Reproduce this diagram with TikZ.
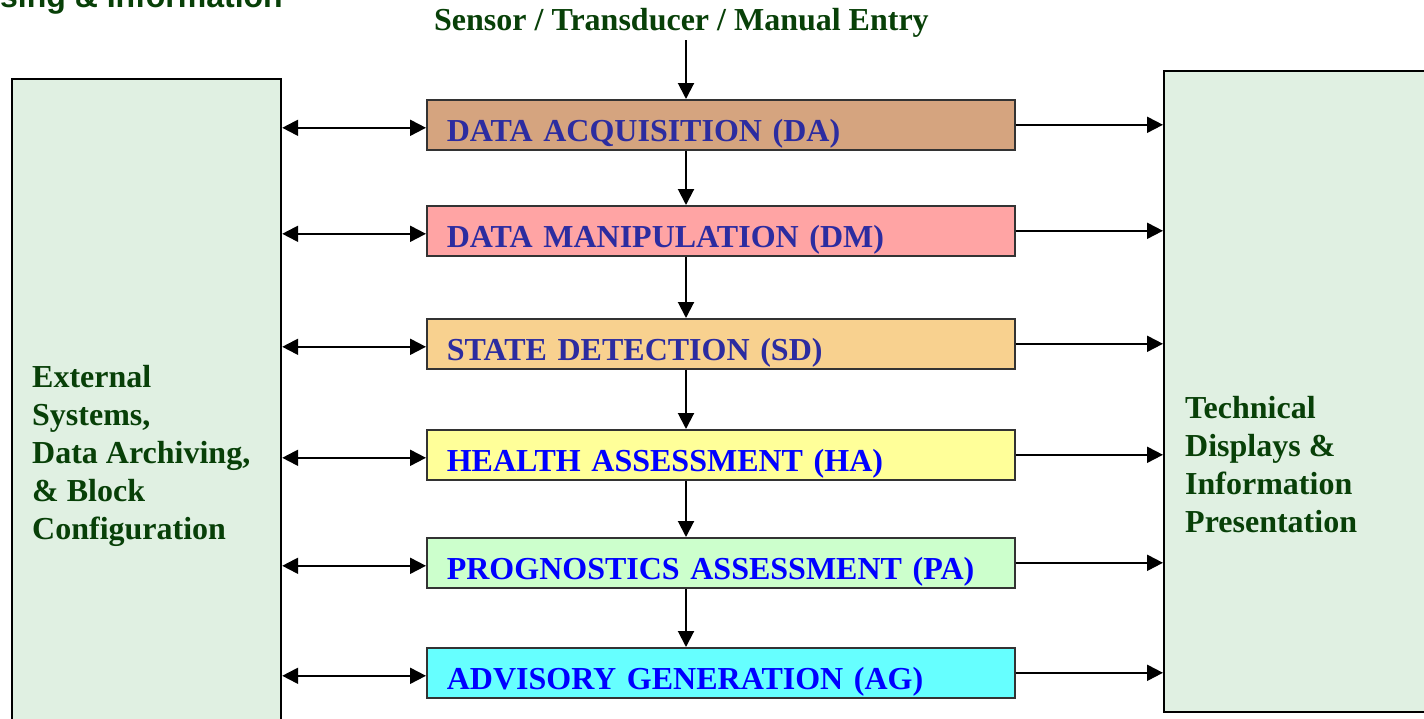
\documentclass[tikz,border=0pt]{standalone}
\usepackage{fontspec}
\setmainfont{Liberation Serif}
\newfontfamily\headsans{Liberation Sans}
\usetikzlibrary{arrows.meta}
\definecolor{dkgreen}{RGB}{8,64,8}
\definecolor{sidefill}{RGB}{224,240,226}
\definecolor{dablue}{RGB}{44,44,160}
\definecolor{brblue}{RGB}{0,0,255}
\definecolor{cDA}{RGB}{213,164,127}
\definecolor{cDM}{RGB}{255,164,164}
\definecolor{cSD}{RGB}{248,209,143}
\definecolor{cHA}{RGB}{255,255,153}
\definecolor{cPA}{RGB}{204,255,204}
\definecolor{cAG}{RGB}{102,255,255}
\tikzset{
  bigfont/.style={font=\fontsize{32}{38}\selectfont\bfseries},
  sidebox/.style={draw=black, line width=2.2pt, fill=sidefill, anchor=north west, inner sep=0pt},
  stagebox/.style={draw=black!80, line width=1.6pt, anchor=north west,
    minimum width=588pt, minimum height=50pt, text width=548pt, align=left,
    inner xsep=20pt, inner ysep=0pt, text height=34pt, text depth=0pt, bigfont},
  conn/.style={line width=2pt, -{Triangle[length=16pt,width=16pt]}},
  dconn/.style={line width=2pt, {Triangle[length=16pt,width=16pt]}-{Triangle[length=16pt,width=16pt]}},
}
\begin{document}
\begin{tikzpicture}[x=1pt,y=-1pt]
\clip (0,0) rectangle (1424,718);
\fill[white] (0,0) rectangle (1424,718);
% side boxes
\node[sidebox, minimum width=269pt, minimum height=660pt] (ext) at (11,78) {};
\node[sidebox, minimum width=280pt, minimum height=641pt] (disp) at (1163,70) {};
\node[anchor=north west, inner sep=0pt, align=left, bigfont, text=dkgreen] (extt) at (32,365)
  {External\\Systems,\\Data Archiving,\\\& Block\\Configuration};
\node[anchor=north west, inner sep=0pt, align=left, bigfont, text=dkgreen] (dispt) at (1185,396)
  {Technical\\Displays \&\\Information\\Presentation};
% headings
\node[anchor=base east, inner sep=0pt, font=\fontsize{32}{38}\selectfont\headsans\bfseries, text=dkgreen] (hdr) at (283,7) {sing \& Information};
\node[anchor=base west, inner sep=0pt, bigfont, text=dkgreen] (title) at (434,30) {Sensor / Transducer / Manual Entry};
% stages
\node[stagebox, fill=cDA, text=dablue] (da) at (426,99) {DATA ACQUISITION (DA)};
\node[stagebox, fill=cDM, text=dablue] (dm) at (426,205) {DATA MANIPULATION (DM)};
\node[stagebox, fill=cSD, text=dablue] (sd) at (426,318) {STATE DETECTION (SD)};
\node[stagebox, fill=cHA, text=brblue] (ha) at (426,429) {HEALTH ASSESSMENT (HA)};
\node[stagebox, fill=cPA, text=brblue] (pa) at (426,537) {PROGNOSTICS ASSESSMENT (PA)};
\node[stagebox, fill=cAG, text=brblue] (ag) at (426,647) {ADVISORY GENERATION (AG)};
\coordinate (axis) at (686,0);
% vertical flow
\draw[conn] (title.south -| axis) ++(0,3) -- (da.north -| axis);
\draw[conn] (da.south -| axis) -- (dm.north -| axis);
\draw[conn] (dm.south -| axis) -- (sd.north -| axis);
\draw[conn] (sd.south -| axis) -- (ha.north -| axis);
\draw[conn] (ha.south -| axis) -- (pa.north -| axis);
\draw[conn] (pa.south -| axis) -- (ag.north -| axis);
% horizontal links
\foreach \s in {da,dm,sd,ha,pa,ag}{
  \draw[dconn] ([yshift=-3pt]ext.east |- \s.west) -- ([yshift=-3pt]\s.west);
  \draw[conn] (\s.east) -- (disp.west |- \s.east);
}
\end{tikzpicture}
\end{document}
